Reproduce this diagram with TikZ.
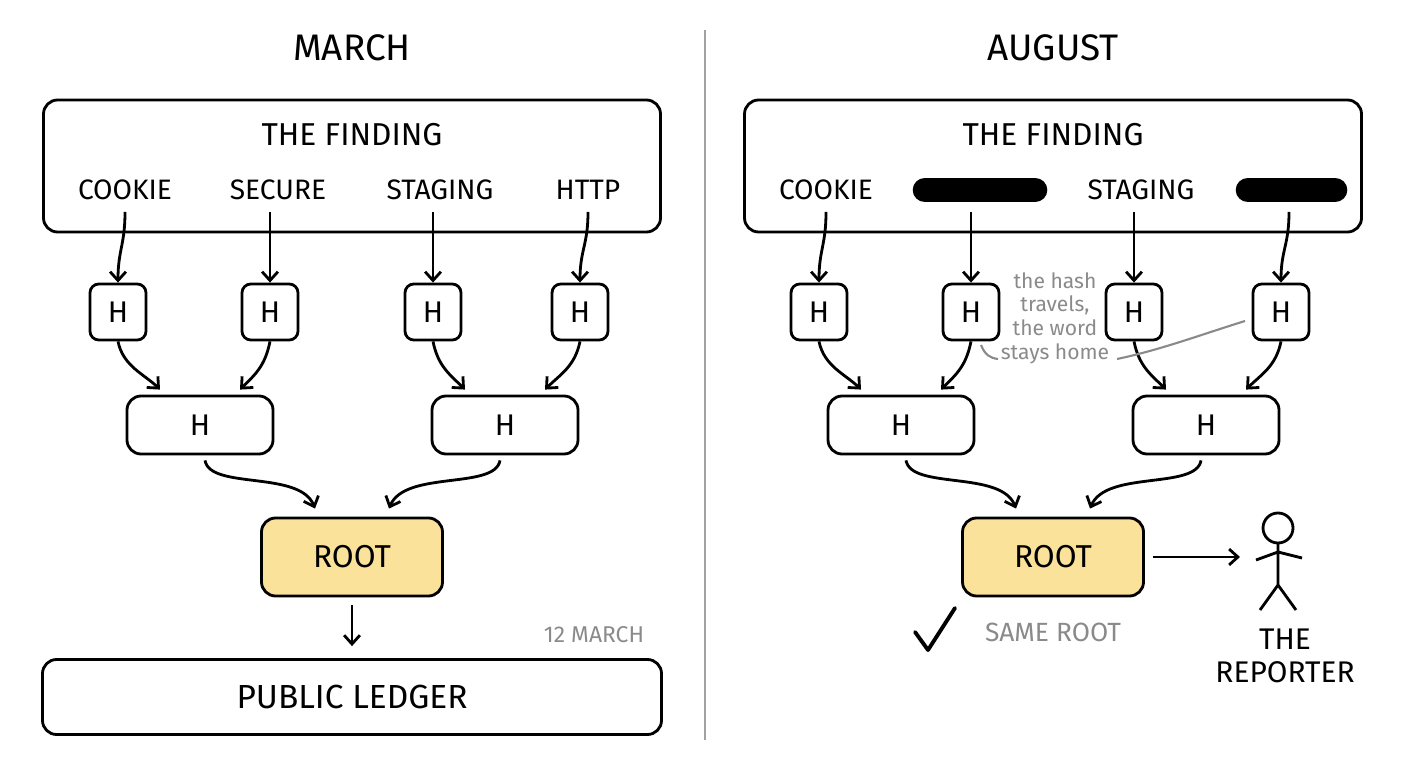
\documentclass[tikz,border=0pt]{standalone}
\usepackage{fontspec}
\setmainfont{Fira Sans}
\usepackage{tikz}
\usetikzlibrary{arrows.meta}
\usetikzlibrary{calc}
\definecolor{rootfill}{HTML}{FBE29A}
\definecolor{note}{HTML}{8A8A8A}

\begin{document}
\begin{tikzpicture}[x=0.2mm,y=-0.2mm]
    \tikzstyle{box}=[draw,line width=1.6pt,rounded corners=8pt,inner sep=0pt]
    \tikzstyle{hbox}=[box,minimum width=56*0.2mm,minimum height=56*0.2mm,font=\fontsize{17}{17}\selectfont,rounded corners=5pt]
    \tikzstyle{mid}=[box,minimum width=146*0.2mm,minimum height=58*0.2mm,font=\fontsize{17}{17}\selectfont]
    \tikzstyle{word}=[font=\fontsize{16}{16}\selectfont]
    \tikzstyle{flow}=[line width=1.6pt,-{Straight Barb[length=5pt,width=9pt]}]
    \tikzstyle{redact}=[line width=14pt,line cap=round]
    \useasboundingbox (0,0) rectangle (1408,768);
    % divider
    \draw[note!80,line width=1.6pt] (705,30) -- (705,740);
    \foreach \side/\dx/\title in {L/0/MARCH,R/701/AUGUST}{
        \node[font=\fontsize{21}{21}\selectfont] (title\side) at (352+\dx,48) {\title};
        \node[box,minimum width=617*0.2mm,minimum height=132*0.2mm] (find\side) at (352+\dx,166) {};
        \node[word,font=\fontsize{18}{18}\selectfont] at (352+\dx,135) {THE FINDING};
        \foreach \i/\hx/\wx in {1/118/125,2/270/270,3/433/433,4/580/588}{
            \coordinate (w\side\i) at (\wx+\dx,212);
            \node[hbox] (h\side\i) at (\hx+\dx,312) {H};
            \draw[flow] (w\side\i) .. controls (\wx+\dx,245) and (\hx+\dx,250) .. (h\side\i.north);
        }
        \node[mid] (m\side1) at (200+\dx,425) {H};
        \node[mid] (m\side2) at (505+\dx,425) {H};
        \node[box,fill=rootfill,minimum width=181*0.2mm,minimum height=78*0.2mm,font=\fontsize{18}{18}\selectfont] (root\side) at (352+\dx,557) {ROOT};
        \draw[flow] (h\side1.south) .. controls ($(h\side1.south)+(5,25)$) and ($(m\side1.north)+(-55,-20)$) .. ($(m\side1.north)+(-40,-5)$);
        \draw[flow] (h\side2.south) .. controls ($(h\side2.south)+(-5,25)$) and ($(m\side1.north)+(55,-20)$) .. ($(m\side1.north)+(40,-5)$);
        \draw[flow] (h\side3.south) .. controls ($(h\side3.south)+(5,25)$) and ($(m\side2.north)+(-55,-20)$) .. ($(m\side2.north)+(-40,-5)$);
        \draw[flow] (h\side4.south) .. controls ($(h\side4.south)+(-5,25)$) and ($(m\side2.north)+(55,-20)$) .. ($(m\side2.north)+(40,-5)$);
        \draw[flow] ($(m\side1.south)+(5,5)$) .. controls (210+\dx,490) and (300+\dx,470) .. ($(root\side.north)+(-37,-8)$);
        \draw[flow] ($(m\side2.south)+(-5,5)$) .. controls (495+\dx,490) and (405+\dx,470) .. ($(root\side.north)+(37,-8)$);
    }
    % March words
    \node[word] at (125,190) {COOKIE};
    \node[word] at (278,190) {SECURE};
    \node[word] at (440,190) {STAGING};
    \node[word] at (588,190) {HTTP};
    \node[box,minimum width=619*0.2mm,minimum height=75*0.2mm,font=\fontsize{19}{19}\selectfont] (ledger) at (352,697) {PUBLIC LEDGER};
    \draw[flow] ($(rootL.south)+(0,8)$) -- ($(ledger.north)+(0,-12)$);
    \node[word,note,font=\fontsize{13}{13}\selectfont] (date) at (594,635) {12 MARCH};
    % August words
    \node[word] at (826,190) {COOKIE};
    \draw[redact] (925,190) -- (1035,190);
    \node[word] at (1141,190) {STAGING};
    \draw[redact] (1248,190) -- (1335,190);
    \node[note,align=center,font=\fontsize{12}{13.5}\selectfont] (hint) at (1055,318) {the hash\\travels,\\the word\\stays home};
    \draw[note,line width=1.2pt] (981,345) .. controls (985,355) and (990,358) .. (998,359);
    \draw[note,line width=1.2pt] (1117,359) .. controls (1160,350) and (1200,335) .. (1245,321);
    % reporter
    \draw[line width=1.6pt] (1278,528) circle (15);
    \coordinate (neck) at (1278,543);
    \coordinate (hip) at (1278,585);
    \draw[line width=1.6pt] (neck) -- (hip) (hip) -- (1260,610) (hip) -- (1296,610) (1256,560) -- (1278,552) -- (1302,558);
    \node[font=\fontsize{17}{19}\selectfont,align=center] (reporter) at (1285,656) {THE\\REPORTER};
    \draw[flow] ($(rootR.east)+(8,0)$) -- (1240,557);
    \draw[line width=2.2pt,line cap=round,line join=round] (915,632) -- (928,650) -- (955,608);
    \node[note,font=\fontsize{15}{15}\selectfont] (same) at (1053,632) {SAME ROOT};
\end{tikzpicture}
\end{document}
